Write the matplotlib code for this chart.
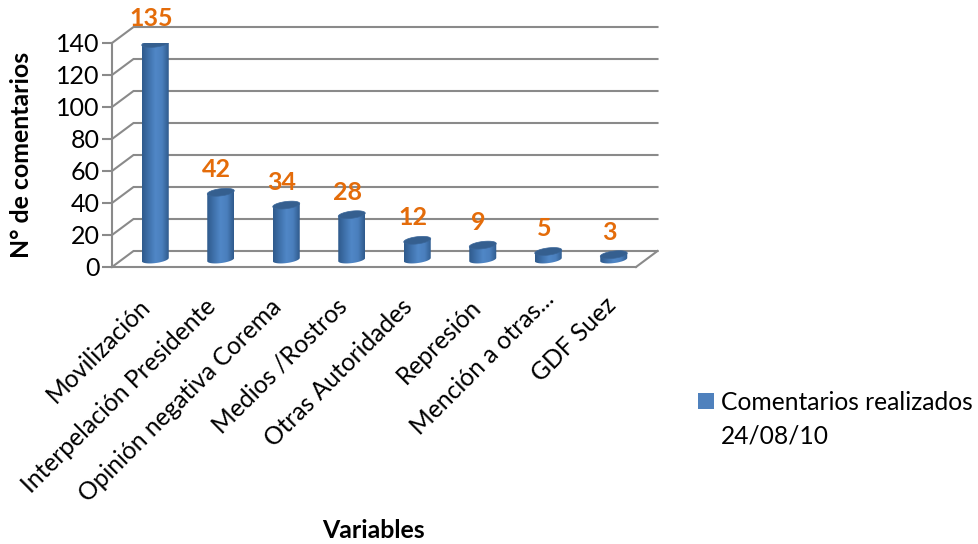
import numpy as np
import matplotlib
matplotlib.use("Agg")
import matplotlib.pyplot as plt
from matplotlib.colors import LinearSegmentedColormap
from matplotlib.patches import Polygon, Rectangle
from matplotlib.transforms import ScaledTranslation

categories = ["Movilización", "Interpelación Presidente", "Opinión negativa Corema",
              "Medios /Rostros", "Otras Autoridades", "Represión", "Mención a otras...", "GDF Suez"]
values = [135, 42, 34, 28, 12, 9, 5, 3]
yticks = [0, 20, 40, 60, 80, 100, 120, 140]
series = ["Comentarios realizados", "24/08/10"]

W, H = 979, 544
plt.rcParams["font.family"] = ["Lato", "DejaVu Sans"]
fig = plt.figure(figsize=(W / 100, H / 100), dpi=100)
L, R, T, B = 112, 636, 43, 267
ax = fig.add_axes([L / W, 1 - B / H, (R - L) / W, (B - T) / H])
ax.set_xlim(-0.5, 7.5)
ax.set_ylim(0, 140)
ax.patch.set_visible(False)
for s in ["top", "right"]:
    ax.spines[s].set_visible(False)
GREY = "#8a8a8a"
for s in ["left", "bottom"]:
    ax.spines[s].set_color(GREY)
    ax.spines[s].set_linewidth(1.5)

px_x = (R - L) / 8
px_y = (B - T) / 140
dx, dy = 21.5 / px_x, 16 / px_y
for v in yticks:
    ax.plot([-0.5, -0.5 + dx, 7.5 + dx], [v, v + dy, v + dy], color=GREY, lw=1.5,
            clip_on=False, zorder=1, solid_joinstyle="miter")
ax.plot([7.5, 7.5 + dx], [0, dy], color=GREY, lw=1.5, clip_on=False, zorder=1)

cmap = LinearSegmentedColormap.from_list("cyl", ["#2f5a8c", "#3f71ab", "#5087c7", "#4a7fbd", "#2f5a8c"])
grad = np.linspace(0, 1, 64).reshape(1, -1)
a = 13.5 / px_x
b = 3.6 / px_y
tilt = 1.6 / px_y
ox, oy = 10.5 / px_x, 7.5 / px_y
t = np.linspace(0, 2 * np.pi, 80)
ex, ey = a * np.cos(t), b * np.sin(t) + tilt * np.cos(t)
lower = t[(t >= np.pi)]
lx, ly = a * np.cos(lower), b * np.sin(lower) + tilt * np.cos(lower)

for i, v in enumerate(values):
    x = i + ox
    base, top = oy, v + oy
    body = np.column_stack([np.r_[x + lx, x + a, x - a], np.r_[base + ly, top + tilt, top - tilt]])
    patch = Polygon(body, closed=True, fc="none", ec="none", zorder=3)
    ax.add_patch(patch)
    im = ax.imshow(grad, cmap=cmap, extent=[x - a, x + a, base - b - tilt, top + b + tilt],
                   aspect="auto", zorder=3, interpolation="bilinear")
    im.set_clip_path(patch)
    ax.add_patch(Polygon(np.column_stack([x + ex, top + ey]), closed=True, fc="#355f8f",
                         ec="#3a6699", lw=0.5, zorder=4))
    ax.annotate(str(v), (i, v), xytext=(6 * 0.72, 30 * 0.72 + (1.5 if v > 100 else 0)),
                textcoords="offset points", ha="center", va="center", color="#E46C0A",
                fontsize=18, fontweight="bold", zorder=5, annotation_clip=False)
ax.set_xlim(-0.5, 7.5)
ax.set_ylim(0, 140)

ax.set_yticks(yticks)
ax.tick_params(axis="y", length=7, width=1.5, color=GREY, labelsize=18, pad=2, labelcolor="black")
ax.set_xticks(range(8))
ax.set_xticklabels(categories, rotation=45, ha="right", va="top", rotation_mode="anchor", fontsize=17.7)
ax.tick_params(axis="x", length=0, pad=20)
nudge_x = [-6, -6, -6, -6, -6, -3, 4, 1]
nudge_y = [0, 0, 0, 0, 0, 0, 8, 2]
for lab, nx, ny in zip(ax.get_xticklabels(), nudge_x, nudge_y):
    lab.set_transform(lab.get_transform() + ScaledTranslation(nx / 100, ny / 100, fig.dpi_scale_trans))

fig.text(22 / W, 1 - 155 / H, "N° de comentarios", rotation=90, ha="center", va="center",
         fontsize=17.9, fontweight="bold")
fig.text(373 / W, 1 - 530 / H, "Variables", ha="center", va="center", fontsize=17.9, fontweight="bold")

handles = [Rectangle((0, 0), 1, 1, fc="#4F81BD"), Rectangle((0, 0), 1, 1, fc="none", ec="none")]
leg = fig.legend(handles=handles, labels=series,
                 loc="upper left", bbox_to_anchor=(693 / W, 1 - 386 / H), frameon=False,
                 fontsize=17.7, handlelength=0.65, handleheight=0.65, handletextpad=0.28,
                 labelspacing=0.42, borderpad=0.2, borderaxespad=0)
fig.savefig("out.png", dpi=100)
